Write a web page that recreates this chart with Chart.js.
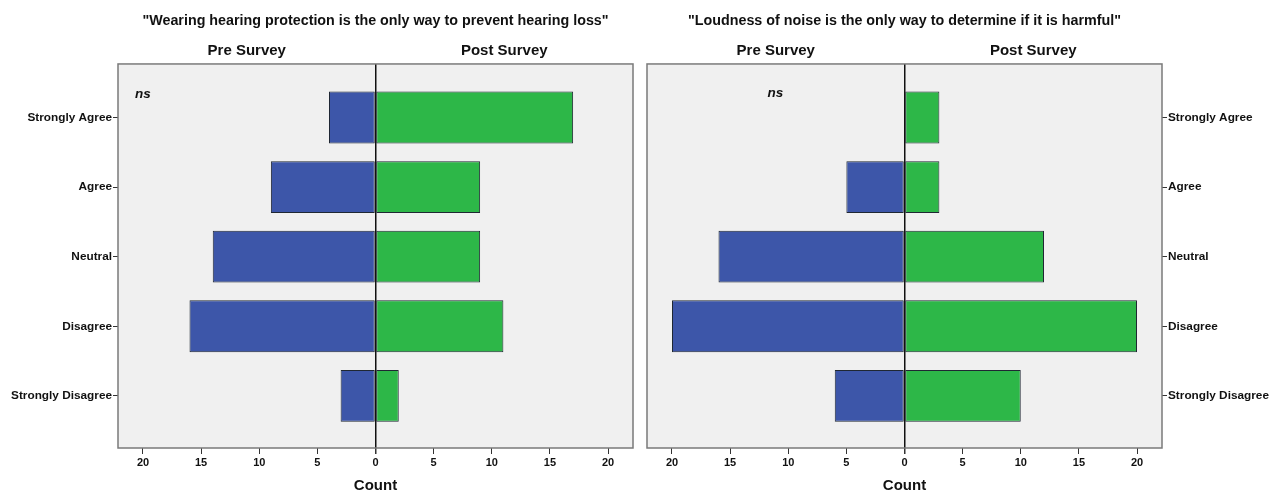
<!DOCTYPE html>
<html>
<head>
<meta charset="utf-8">
<title>Pre / Post Survey responses</title>
<script src="https://cdn.jsdelivr.net/npm/chart.js@4.4.1/dist/chart.umd.min.js"></script>
<style>
  html, body { margin: 0; padding: 0; background: #ffffff; }
  #wrap { position: relative; width: 1276px; height: 493px; }
  canvas { position: absolute; top: 0; }
  #protection { left: 0; }
  #loudness { left: 640px; }
</style>
</head>
<body>
<div id="wrap">
  <canvas id="protection" width="640" height="493"></canvas>
  <canvas id="loudness" width="636" height="493"></canvas>
</div>
<script>
// Response categories, top to bottom
const categories = ['Strongly Agree', 'Agree', 'Neutral', 'Disagree', 'Strongly Disagree'];

// "Wearing hearing protection is the only way to prevent hearing loss"
const protectionPre  = [4, 9, 14, 16, 3];
const protectionPost = [17, 9, 9, 11, 2];

// "Loudness of noise is the only way to determine if it is harmful"
const loudnessPre  = [0, 5, 16, 20, 6];
const loudnessPost = [3, 3, 12, 20, 10];

// Count axis ticks (pre side drawn to the left of zero)
const countTicks = [-20, -15, -10, -5, 0, 5, 10, 15, 20];
const sideLabels = ['Pre Survey', 'Post Survey'];

const FONT = "'Liberation Sans', Arial, sans-serif";
const PRE_COLOR = '#3d56a9';
const POST_COLOR = '#2db748';
const X_LIMIT = 22.15;

// Plot background, frame and the "ns" note
const framePlugin = {
  id: 'frame',
  beforeDraw(chart) {
    const { ctx, chartArea: a } = chart;
    ctx.save();
    ctx.fillStyle = '#f0f0f0';
    ctx.fillRect(a.left, a.top, a.right - a.left, a.bottom - a.top);
    ctx.restore();
  },
  afterDraw(chart) {
    const { ctx, chartArea: a } = chart;
    ctx.save();
    ctx.strokeStyle = '#7a7a7a';
    ctx.lineWidth = 1.5;
    ctx.strokeRect(a.left, a.top, a.right - a.left, a.bottom - a.top);
    const note = chart.options.plugins.frame;
    if (note && note.text) {
      const x = chart.scales.x.getPixelForValue(note.x);
      const y = chart.scales.y.getPixelForValue(note.y);
      ctx.fillStyle = '#111';
      ctx.font = 'italic bold 13.5px ' + FONT;
      ctx.textAlign = 'center';
      ctx.textBaseline = 'middle';
      ctx.fillText(note.text, x, y);
    }
    ctx.restore();
  }
};

function buildChart(canvasId, title, pre, post, side, note) {
  const toPoints = (arr, sign) => arr.map((v, i) => ({ x: sign * v, y: i }));
  const yWidth = side === 'left' ? 118 : 114;
  const barStyle = {
    borderColor: '#1f2733',
    borderWidth: 1,
    borderSkipped: false,
    categoryPercentage: 1,
    barPercentage: 0.745
  };
  return new Chart(document.getElementById(canvasId), {
    type: 'bar',
    data: {
      datasets: [
        Object.assign({ label: sideLabels[0], data: toPoints(pre, -1), backgroundColor: PRE_COLOR }, barStyle),
        Object.assign({ label: sideLabels[1], data: toPoints(post, 1), backgroundColor: POST_COLOR }, barStyle)
      ]
    },
    options: {
      indexAxis: 'y',
      responsive: false,
      animation: false,
      layout: {
        padding: side === 'left' ? { left: 0, right: 7, top: 0, bottom: 0 }
                                 : { left: 7, right: 0, top: 0, bottom: 0 }
      },
      plugins: {
        legend: { display: false },
        tooltip: { enabled: false },
        title: {
          display: true,
          text: title,
          fullSize: false,
          color: '#111',
          font: { family: FONT, size: 14.3, weight: 'bold' },
          padding: { top: 12, bottom: 6 }
        },
        frame: note
      },
      scales: {
        x: {
          type: 'linear',
          stacked: true,
          min: -X_LIMIT,
          max: X_LIMIT,
          afterBuildTicks(scale) {
            scale.ticks = countTicks.map(v => ({ value: v }));
          },
          afterFit(scale) { scale.height = 45; },
          ticks: {
            color: '#111',
            padding: 2,
            maxRotation: 0,
            font: { family: FONT, size: 11, weight: 'bold' },
            callback: v => String(Math.abs(v))
          },
          grid: {
            drawOnChartArea: true,
            drawTicks: true,
            tickLength: 6,
            tickColor: '#333',
            color: ctx => (ctx.tick && ctx.tick.value === 0 ? '#111' : 'rgba(0,0,0,0)'),
            lineWidth: ctx => (ctx.tick && ctx.tick.value === 0 ? 1.5 : 1)
          },
          border: { display: false },
          title: {
            display: true,
            text: 'Count',
            color: '#111',
            font: { family: FONT, size: 15, weight: 'bold', lineHeight: 1 },
            padding: { top: 0, bottom: 0 }
          }
        },
        xTop: {
          type: 'linear',
          axis: 'x',
          position: 'top',
          min: -X_LIMIT,
          max: X_LIMIT,
          afterBuildTicks(scale) {
            scale.ticks = [{ value: -X_LIMIT / 2 }, { value: X_LIMIT / 2 }];
          },
          afterFit(scale) { scale.height = 28.8; },
          ticks: {
            color: '#111',
            padding: 4,
            maxRotation: 0,
            autoSkip: false,
            font: { family: FONT, size: 15, weight: 'bold' },
            callback: v => (v < 0 ? sideLabels[0] : sideLabels[1])
          },
          grid: { display: false, drawTicks: false },
          border: { display: false }
        },
        y: {
          type: 'linear',
          position: side,
          stacked: true,
          reverse: true,
          offset: false,
          min: -0.77,
          max: 4.75,
          afterBuildTicks(scale) {
            scale.ticks = categories.map((c, i) => ({ value: i }));
          },
          afterFit(scale) { scale.width = yWidth; },
          ticks: {
            color: '#111',
            padding: 1,
            autoSkip: false,
            font: { family: FONT, size: 11.8, weight: 'bold' },
            callback: v => categories[v]
          },
          grid: {
            offset: false,
            drawOnChartArea: false,
            drawTicks: true,
            tickLength: 5,
            tickColor: '#333'
          },
          border: { display: false }
        }
      }
    },
    plugins: [framePlugin]
  });
}

buildChart('protection',
  '"Wearing hearing protection is the only way to prevent hearing loss"',
  protectionPre, protectionPost, 'left',
  { text: 'ns', x: -20, y: -0.33 });

buildChart('loudness',
  '"Loudness of noise is the only way to determine if it is harmful"',
  loudnessPre, loudnessPost, 'right',
  { text: 'ns', x: -11.1, y: -0.35 });
</script>
</body>
</html>
